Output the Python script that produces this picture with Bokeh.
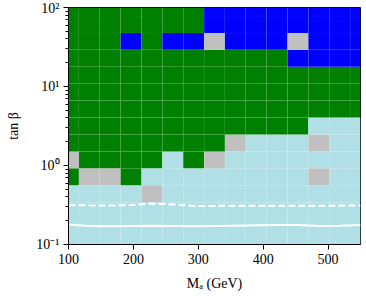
import math
from bokeh.plotting import figure
from bokeh.models import FixedTicker, Range1d, ColumnDataSource
from bokeh.embed import file_html
from bokeh.resources import INLINE

# grid of scanned points
m_a = [100.0, 132.1, 164.3, 196.4, 228.6, 260.7, 292.9, 325.0, 357.1,
       389.3, 421.4, 453.6, 485.7, 517.9, 550.0]
tan_beta = [0.1, 0.1638, 0.2683, 0.4394, 0.7197, 1.179, 1.931, 3.162,
            5.179, 8.483, 13.89, 22.76, 37.28, 61.05, 100.0]

# status of each grid cell, bottom row first (G=green, B=blue, L=light blue, S=grey)
status_rows = [
    "LLLLLLLLLLLLLLL",
    "LLLLLLLLLLLLLLL",
    "LLLLLLLLLLLLLLL",
    "LLLLSLLLLLLLLLL",
    "GSSGLLLLLLLLSLL",
    "SGGGGLGSLLLLLLL",
    "GGGGGGGGSLLLSLL",
    "GGGGGGGGGGGGLLL",
    "GGGGGGGGGGGGGGG",
    "GGGGGGGGGGGGGGG",
    "GGGGGGGGGGGGGGG",
    "GGGGGGGGGGGBBBB",
    "GGGBGBBSBBBSBBB",
    "GGGGGGGBBBBBBBB",
    "GGGGGGGBBBBBBBB",
]
status_colors = {"G": "#008000", "B": "#0000ff", "L": "#b0e0e6", "S": "#c0c0c0"}

# white contours
dashed_line = [0.315, 0.313, 0.312, 0.315, 0.33, 0.322, 0.308, 0.308, 0.31,
               0.31, 0.31, 0.31, 0.31, 0.31, 0.312]
solid_line = [0.179, 0.172, 0.170, 0.171, 0.173, 0.172, 0.170, 0.171, 0.173,
              0.175, 0.177, 0.176, 0.171, 0.173, 0.176]

x_lo, x_hi = 100, 550
y_lo, y_hi = 0.1, 100

# cell edges from grid centres
xe = [x_lo] + [(m_a[i] + m_a[i + 1]) / 2 for i in range(len(m_a) - 1)] + [x_hi]
ye = [y_lo] + [math.sqrt(tan_beta[i] * tan_beta[i + 1]) for i in range(len(tan_beta) - 1)] + [y_hi]

left, right, bottom, top, color = [], [], [], [], []
for j, row in enumerate(status_rows):
    for i, c in enumerate(row):
        left.append(xe[i]); right.append(xe[i + 1])
        bottom.append(ye[j]); top.append(ye[j + 1])
        color.append(status_colors[c])
src = ColumnDataSource(dict(left=left, right=right, bottom=bottom, top=top, color=color))

p = figure(width=362, height=294, x_range=Range1d(x_lo, x_hi), y_range=Range1d(y_lo, y_hi),
           y_axis_type="log", output_backend="svg", toolbar_location=None,
           min_border_left=68, min_border_right=2, min_border_top=7, min_border_bottom=50)

p.quad(left="left", right="right", bottom="bottom", top="top", fill_color="color",
       line_color="white", line_alpha=0.04, line_width=1, source=src)

p.line(m_a, dashed_line, line_color="white", line_width=2, line_dash="7 3")
p.line(m_a, solid_line, line_color="white", line_width=2)

p.grid.visible = False
p.outline_line_color = "black"
p.outline_line_width = 1

font = "Liberation Serif"
p.xaxis.ticker = FixedTicker(ticks=[100, 200, 300, 400, 500], minor_ticks=[])
minor = [k * 10.0 ** e for e in (-1, 0, 1) for k in range(2, 10)]
p.yaxis.ticker = FixedTicker(ticks=[0.1, 1, 10, 100], minor_ticks=minor)
p.yaxis.major_label_overrides = {0.1: "10⁻¹", 1: "10⁰", 10: "10¹", 100: "10²"}

for ax in (p.xaxis[0], p.yaxis[0]):
    ax.major_label_text_font = font
    ax.major_label_text_font_size = "14px"
    ax.major_label_text_color = "black"
    ax.axis_label_text_font = font
    ax.axis_label_text_font_size = "14px"
    ax.axis_label_text_font_style = "normal"
    ax.axis_label_text_color = "black"
    ax.major_tick_in = 0
    ax.major_tick_out = 5
    ax.minor_tick_in = 0
    ax.minor_tick_out = 3
    ax.axis_line_color = "black"
    ax.major_tick_line_color = "black"
    ax.minor_tick_line_color = "black"

p.xaxis.axis_label = "Mₐ (GeV)"
p.yaxis.axis_label = "tan β"
p.xaxis.axis_label_standoff = 9
p.yaxis.axis_label_standoff = 12
p.xaxis.major_label_standoff = 4
p.yaxis.major_label_standoff = 4

open("out.html", "w").write(file_html(p, INLINE))
